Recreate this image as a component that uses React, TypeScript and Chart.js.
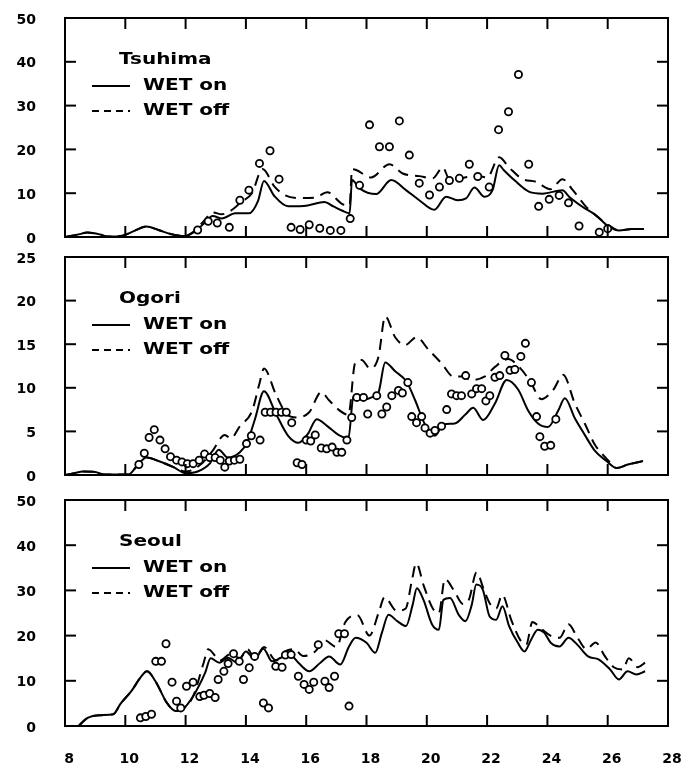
import React, { useEffect, useRef } from "react";
import { Chart, registerables } from "chart.js";

Chart.register(...registerables);

type Pt = [number, number];

// ---------- shared axis / legend text ----------
const xTickValues = [8, 10, 12, 14, 16, 18, 20, 22, 24, 26, 28];
const legendOn = "WET on";
const legendOff = "WET off";

// ---------- Tsuhima ----------
const tsuhimaName = "Tsuhima";
const tsuhimaTicks = [0, 10, 20, 30, 40, 50];
const tsuhimaOn: Pt[] = [
  [8.0, 0], [8.4, 0.5], [8.75, 1.0], [9.15, 0.6], [9.4, 0.1], [9.9, 0.3], [10.3, 1.4], [10.7, 2.4],
  [11.1, 1.6], [11.5, 0.7], [11.95, 0.2], [12.3, 1.2], [12.6, 3.0], [12.9, 4.8], [13.2, 4.2], [13.65, 5.4],
  [14.1, 5.4], [14.4, 8.2], [14.6, 12.8], [14.95, 9.3], [15.4, 7.0], [16.05, 7.2], [16.6, 8.0], [16.9, 7.0],
  [17.2, 6.0], [17.44, 5.4], [17.52, 13.0], [17.77, 11.1], [18.32, 9.8], [18.82, 13.0], [19.31, 10.7],
  [19.75, 8.4], [20.25, 6.2], [20.64, 9.2], [21.02, 8.4], [21.3, 8.8], [21.58, 11.3], [21.91, 9.2],
  [22.18, 10.7], [22.4, 16.4], [22.55, 15.3], [22.9, 13.0], [23.4, 10.3], [23.84, 9.9], [24.5, 10.7],
  [24.72, 9.2], [25.16, 6.9], [25.6, 5.0], [26.05, 2.3], [26.38, 1.5], [26.8, 1.8], [27.2, 1.8],
];
const tsuhimaOff: Pt[] = [
  [8.0, 0], [8.4, 0.5], [8.75, 1.0], [9.15, 0.6], [9.4, 0.1], [9.9, 0.3], [10.3, 1.4], [10.7, 2.4],
  [11.1, 1.6], [11.5, 0.7], [11.95, 0.2], [12.3, 1.4], [12.6, 3.6], [12.9, 5.6], [13.2, 5.2], [13.5, 6.0],
  [13.85, 8.0], [14.2, 10.0], [14.55, 15.5], [14.95, 11.5], [15.3, 9.5], [15.8, 8.9], [16.3, 9.0],
  [16.7, 10.2], [17.2, 7.5], [17.44, 7.2], [17.52, 15.5], [17.66, 15.3], [18.15, 13.6], [18.76, 16.6],
  [19.2, 14.5], [19.75, 13.9], [20.2, 13.4], [20.53, 15.9], [20.75, 13.2], [21.2, 13.5], [21.63, 14.0],
  [22.0, 13.6], [22.4, 18.2], [22.74, 15.8], [23.18, 13.2], [23.62, 12.6], [24.1, 10.9], [24.5, 13.2],
  [24.83, 10.8], [25.27, 7.0], [25.72, 4.3], [26.05, 2.6], [26.38, 1.5], [26.8, 1.8], [27.2, 1.8],
];
const tsuhimaObs: Pt[] = [
  [12.4, 1.6], [12.75, 3.6], [13.05, 3.2], [13.45, 2.2], [13.8, 8.4], [14.1, 10.7], [14.45, 16.8],
  [14.8, 19.7], [15.1, 13.2], [15.5, 2.2], [15.8, 1.7], [16.1, 2.8], [16.45, 2.0], [16.8, 1.5],
  [17.15, 1.5], [17.46, 4.2], [17.77, 11.8], [18.1, 25.6], [18.43, 20.6], [18.76, 20.6], [19.09, 26.5],
  [19.42, 18.7], [19.75, 12.3], [20.09, 9.6], [20.42, 11.4], [20.75, 12.9], [21.08, 13.4], [21.41, 16.6],
  [21.69, 13.8], [22.07, 11.4], [22.38, 24.5], [22.71, 28.6], [23.04, 37.1], [23.38, 16.6], [23.71, 7.0],
  [24.06, 8.6], [24.39, 9.5], [24.7, 7.8], [25.05, 2.5], [25.72, 1.1], [26.0, 1.9],
];

// ---------- Ogori ----------
const ogoriName = "Ogori";
const ogoriTicks = [0, 5, 10, 15, 20, 25];
const ogoriOn: Pt[] = [
  [8.0, 0], [8.3, 0.2], [8.6, 0.4], [9.0, 0.35], [9.3, 0.05], [10.1, 0.05], [10.4, 1.1], [10.7, 2.0],
  [11.1, 1.6], [11.6, 0.9], [12.0, 0.2], [12.4, 0.4], [12.8, 1.3], [13.1, 2.9], [13.4, 2.0], [13.8, 2.6],
  [14.05, 3.8], [14.3, 6.4], [14.6, 9.6], [15.0, 7.0], [15.4, 4.5], [15.75, 3.7], [16.05, 4.7],
  [16.35, 6.4], [16.7, 5.6], [17.07, 4.6], [17.4, 4.2], [17.57, 9.1], [17.84, 8.6], [18.17, 8.9],
  [18.4, 9.5], [18.62, 12.9], [18.95, 11.9], [19.33, 10.7], [19.61, 8.6], [19.94, 5.8], [20.27, 4.5],
  [20.55, 5.8], [20.93, 5.9], [21.27, 6.9], [21.54, 7.7], [21.87, 6.3], [22.26, 8.2], [22.65, 10.9],
  [23.03, 9.8], [23.36, 7.4], [23.69, 5.9], [24.02, 5.5], [24.36, 7.4], [24.58, 8.8], [24.91, 6.5],
  [25.24, 4.6], [25.57, 2.8], [25.96, 1.6], [26.29, 0.8], [26.67, 1.2], [27.17, 1.6],
];
const ogoriOff: Pt[] = [
  [8.0, 0], [8.3, 0.2], [8.6, 0.4], [9.0, 0.35], [9.3, 0.05], [10.1, 0.05], [10.4, 1.1], [10.7, 2.0],
  [11.1, 1.6], [11.6, 0.9], [12.0, 0.4], [12.5, 1.2], [12.9, 2.8], [13.3, 4.6], [13.5, 4.2], [13.8, 5.6],
  [14.2, 7.3], [14.45, 10.5], [14.6, 12.2], [15.0, 9.2], [15.35, 7.0], [15.7, 6.6], [16.1, 7.2],
  [16.5, 9.5], [16.75, 8.6], [17.07, 7.5], [17.4, 6.9], [17.62, 12.8], [17.84, 13.2], [18.12, 12.2],
  [18.4, 13.6], [18.62, 18.2], [18.95, 15.8], [19.28, 14.9], [19.66, 15.8], [20.05, 14.4], [20.49, 12.8],
  [20.88, 11.3], [21.15, 11.3], [21.49, 10.9], [21.93, 11.3], [22.26, 12.4], [22.7, 13.3], [23.03, 12.5],
  [23.42, 10.8], [23.8, 8.7], [24.2, 9.8], [24.52, 11.5], [24.91, 8.2], [25.24, 5.9], [25.57, 3.5],
  [25.9, 2.1], [26.15, 1.2], [26.29, 0.8], [26.67, 1.2], [27.17, 1.6],
];
const ogoriObs: Pt[] = [
  [10.45, 1.2], [10.63, 2.5], [10.79, 4.3], [10.96, 5.2], [11.15, 4.0], [11.32, 3.0], [11.5, 2.1],
  [11.7, 1.7], [11.88, 1.5], [12.06, 1.3], [12.25, 1.3], [12.45, 1.7], [12.63, 2.4], [12.8, 2.0],
  [12.98, 2.0], [13.15, 1.7], [13.3, 0.9], [13.45, 1.6], [13.62, 1.7], [13.8, 1.8], [14.02, 3.6],
  [14.18, 4.5], [14.47, 4.0], [14.64, 7.2], [14.82, 7.2], [15.0, 7.2], [15.18, 7.2], [15.34, 7.2],
  [15.52, 6.0], [15.7, 1.4], [15.86, 1.2], [16.0, 4.0], [16.15, 3.9], [16.3, 4.6], [16.5, 3.1],
  [16.68, 3.0], [16.86, 3.2], [17.02, 2.6], [17.18, 2.6], [17.35, 4.0], [17.51, 6.6], [17.68, 8.9],
  [17.9, 8.9], [18.04, 7.0], [18.34, 9.1], [18.51, 7.0], [18.67, 7.8], [18.84, 9.1], [19.06, 9.7],
  [19.19, 9.4], [19.37, 10.6], [19.5, 6.7], [19.66, 6.0], [19.83, 6.7], [19.94, 5.4], [20.11, 4.8],
  [20.27, 5.1], [20.49, 5.6], [20.66, 7.5], [20.82, 9.3], [20.99, 9.1], [21.15, 9.1], [21.29, 11.4],
  [21.49, 9.3], [21.65, 9.9], [21.82, 9.9], [21.96, 8.5], [22.09, 9.1], [22.26, 11.2], [22.42, 11.4],
  [22.59, 13.7], [22.76, 12.0], [22.92, 12.1], [23.12, 13.6], [23.27, 15.1], [23.47, 10.6],
  [23.64, 6.7], [23.75, 4.4], [23.91, 3.3], [24.11, 3.4], [24.28, 6.4],
];

// ---------- Seoul ----------
const seoulName = "Seoul";
const seoulTicks = [0, 10, 20, 30, 40, 50];
const seoulOn: Pt[] = [
  [8.45, 0], [8.75, 1.8], [9.2, 2.4], [9.6, 2.6], [9.85, 5.0], [10.2, 7.7], [10.5, 10.7], [10.72, 12.1],
  [11.0, 9.9], [11.38, 5.1], [11.67, 3.3], [11.9, 3.7], [12.25, 6.6], [12.65, 11.8], [12.83, 15.0],
  [13.12, 14.0], [13.41, 15.1], [13.71, 14.0], [14.0, 16.5], [14.29, 14.7], [14.58, 17.1], [14.87, 14.3],
  [15.16, 15.1], [15.45, 15.8], [15.74, 14.0], [16.1, 12.1], [16.47, 14.0], [16.76, 15.4], [17.13, 13.6],
  [17.42, 17.6], [17.64, 19.5], [18.0, 18.4], [18.29, 16.2], [18.51, 20.6], [18.73, 24.6], [19.02, 23.2],
  [19.31, 22.1], [19.53, 26.8], [19.67, 30.5], [19.89, 27.9], [20.18, 22.4], [20.4, 21.3], [20.55, 27.9],
  [20.77, 28.3], [21.06, 24.6], [21.28, 23.2], [21.49, 26.8], [21.64, 31.3], [21.86, 30.1], [22.08, 24.3],
  [22.3, 23.5], [22.51, 26.5], [22.73, 22.1], [23.02, 18.4], [23.24, 16.5], [23.46, 19.1], [23.68, 21.3],
  [23.9, 20.6], [24.11, 18.4], [24.4, 17.6], [24.7, 19.5], [24.99, 18.0], [25.35, 15.4], [25.71, 14.7],
  [26.08, 12.5], [26.37, 10.3], [26.66, 12.1], [26.95, 11.4], [27.24, 12.1],
];
const seoulOff: Pt[] = [
  [8.45, 0], [8.75, 1.8], [9.2, 2.4], [9.6, 2.6], [9.85, 5.0], [10.2, 7.7], [10.5, 10.7], [10.72, 12.1],
  [11.0, 9.9], [11.38, 5.1], [11.67, 3.3], [11.9, 3.7], [12.25, 6.6], [12.6, 14.0], [12.75, 17.0],
  [13.15, 14.5], [13.5, 16.0], [13.8, 15.0], [14.05, 17.0], [14.3, 15.0], [14.6, 17.5], [15.0, 14.5],
  [15.3, 16.5], [15.6, 17.0], [15.9, 15.5], [16.3, 16.5], [16.6, 19.0], [17.0, 17.5], [17.3, 23.0],
  [17.7, 24.5], [18.1, 20.0], [18.4, 25.0], [18.6, 28.5], [19.0, 25.5], [19.3, 26.0], [19.5, 32.0],
  [19.65, 36.0], [19.9, 31.0], [20.2, 26.0], [20.4, 25.0], [20.6, 32.5], [20.9, 30.0], [21.2, 27.0],
  [21.4, 28.0], [21.65, 34.0], [21.9, 30.0], [22.1, 27.0], [22.3, 26.0], [22.5, 29.0], [22.8, 23.5],
  [23.1, 19.0], [23.3, 18.0], [23.5, 23.0], [23.8, 21.5], [24.1, 20.0], [24.4, 19.5], [24.7, 22.5],
  [25.0, 19.5], [25.3, 17.0], [25.6, 18.5], [25.9, 15.5], [26.2, 13.0], [26.5, 12.5], [26.7, 15.0],
  [27.0, 13.0], [27.24, 14.0],
];
const seoulObs: Pt[] = [
  [10.5, 1.8], [10.68, 2.1], [10.87, 2.6], [11.01, 14.3], [11.2, 14.3], [11.35, 18.2], [11.55, 9.7],
  [11.7, 5.5], [11.84, 4.0], [12.03, 8.8], [12.25, 9.7], [12.47, 6.5], [12.61, 6.8], [12.8, 7.2],
  [12.98, 6.3], [13.08, 10.3], [13.27, 12.1], [13.41, 13.8], [13.59, 16.0], [13.78, 14.3], [13.92, 10.3],
  [14.11, 12.9], [14.29, 15.4], [14.58, 5.1], [14.75, 4.0], [14.99, 13.2], [15.2, 13.0], [15.31, 15.7],
  [15.5, 15.8], [15.74, 11.0], [15.93, 9.2], [16.1, 8.1], [16.25, 9.7], [16.4, 18.0], [16.62, 9.9],
  [16.76, 8.5], [16.94, 11.0], [17.08, 20.4], [17.27, 20.4], [17.42, 4.4],
];

// ---------- layout ----------
const W = 689;
const PLOT_LEFT = 65;
const PLOT_RIGHT = 668;
const TICK_LEN = 11;
const INK = "#000";
const TICK_FONT = { family: "'DejaVu Sans', sans-serif", size: 14, weight: "bold" as const };

type PanelCfg = {
  name: string;
  ticks: number[];
  on: Pt[];
  off: Pt[];
  obs: Pt[];
  canvasTop: number;
  canvasH: number;
  padTop: number;
  padBottom: number;
  last: boolean;
};

const panels: PanelCfg[] = [
  { name: tsuhimaName, ticks: tsuhimaTicks, on: tsuhimaOn, off: tsuhimaOff, obs: tsuhimaObs,
    canvasTop: 0, canvasH: 257, padTop: 18, padBottom: 20, last: false },
  { name: ogoriName, ticks: ogoriTicks, on: ogoriOn, off: ogoriOff, obs: ogoriObs,
    canvasTop: 241, canvasH: 253, padTop: 16, padBottom: 19, last: false },
  { name: seoulName, ticks: seoulTicks, on: seoulOn, off: seoulOff, obs: seoulObs,
    canvasTop: 480, canvasH: 291, padTop: 20, padBottom: 0, last: true },
];

const X_AXIS_H = 45;

const toXY = (pts: Pt[]) => pts.map(([x, y]) => ({ x, y }));

function wideText(ctx: CanvasRenderingContext2D, text: string, x: number, y: number) {
  ctx.save();
  ctx.translate(x, y);
  ctx.scale(1.25, 1);
  ctx.font = "bold 16px 'DejaVu Sans', sans-serif";
  ctx.textAlign = "left";
  ctx.textBaseline = "middle";
  ctx.fillStyle = INK;
  ctx.fillText(text, 0, 0);
  ctx.restore();
}

function makeFramePlugin(cfg: PanelCfg) {
  return {
    id: "frameAndLegend",
    afterDatasetsDraw(chart: any) {
      const ctx: CanvasRenderingContext2D = chart.ctx;
      const xs = chart.scales.x;
      const ys = chart.scales.y;
      const yMin = cfg.ticks[0];
      const yMax = cfg.ticks[cfg.ticks.length - 1];
      const xMin = xTickValues[0];
      const xMax = xTickValues[xTickValues.length - 1];
      const left = xs.getPixelForValue(xMin);
      const right = xs.getPixelForValue(xMax);
      const top = ys.getPixelForValue(yMax);
      const bottom = ys.getPixelForValue(yMin);
      ctx.save();
      ctx.strokeStyle = INK;
      ctx.lineWidth = 2;
      ctx.beginPath();
      ctx.rect(left, top, right - left, bottom - top);
      ctx.stroke();
      const seg = (x1: number, y1: number, x2: number, y2: number) => {
        ctx.beginPath();
        ctx.moveTo(x1, y1);
        ctx.lineTo(x2, y2);
        ctx.stroke();
      };
      cfg.ticks.forEach((v) => {
        if (v === yMin || v === yMax) return;
        const y = ys.getPixelForValue(v);
        seg(left, y, left + TICK_LEN, y);
        seg(right, y, right - TICK_LEN, y);
      });
      xTickValues.forEach((v) => {
        if (v === xMin || v === xMax) return;
        const x = xs.getPixelForValue(v);
        seg(x, top, x, top + TICK_LEN);
        seg(x, bottom, x, bottom - TICK_LEN);
      });

      // legend block
      const tY = top + 42;
      const onY = top + 68;
      const offY = top + 93;
      wideText(ctx, cfg.name, 119, tY);
      seg(92, onY, 130, onY);
      wideText(ctx, legendOn, 143, onY);
      ctx.setLineDash([7, 5]);
      seg(92, offY, 130, offY);
      ctx.setLineDash([]);
      wideText(ctx, legendOff, 143, offY);
      ctx.restore();
    },
  };
}

function Panel({ cfg }: { cfg: PanelCfg }) {
  const ref = useRef<HTMLCanvasElement>(null);
  useEffect(() => {
    const canvas = ref.current;
    if (!canvas) return;
    const yMax = cfg.ticks[cfg.ticks.length - 1];
    const step = cfg.ticks[1] - cfg.ticks[0];
    const xScale: any = {
      type: "linear",
      min: xTickValues[0],
      max: xTickValues[xTickValues.length - 1],
      display: cfg.last,
      grid: { display: false, drawTicks: false },
      border: { display: false },
      ticks: {
        stepSize: 2,
        autoSkip: false,
        maxRotation: 0,
        padding: 25,
        labelOffset: 4,
        color: INK,
        font: TICK_FONT,
        callback: (v: any) => String(v),
      },
    };
    if (cfg.last) {
      xScale.afterFit = (s: any) => {
        s.height = X_AXIS_H;
        s.paddingLeft = 0;
        s.paddingRight = 0;
      };
    }
    const chart = new Chart(canvas, {
      type: "line",
      data: {
        datasets: [
          {
            type: "scatter",
            label: "observed",
            data: toXY(cfg.obs),
            pointRadius: 3.6,
            pointBorderWidth: 1.8,
            borderColor: INK,
            backgroundColor: "#fff",
            pointBackgroundColor: "#fff",
            pointBorderColor: INK,
            showLine: false,
            order: 0,
          } as any,
          {
            type: "line",
            label: legendOn,
            data: toXY(cfg.on),
            borderColor: INK,
            borderWidth: 2,
            pointRadius: 0,
            fill: false,
            cubicInterpolationMode: "monotone",
            order: 1,
          } as any,
          {
            type: "line",
            label: legendOff,
            data: toXY(cfg.off),
            borderColor: INK,
            borderWidth: 2,
            borderDash: [11, 7],
            pointRadius: 0,
            fill: false,
            cubicInterpolationMode: "monotone",
            order: 2,
          } as any,
        ],
      },
      options: {
        animation: false,
        responsive: false,
        maintainAspectRatio: false,
        layout: {
          autoPadding: false,
          padding: { left: 0, right: W - PLOT_RIGHT, top: cfg.padTop, bottom: cfg.padBottom },
        },
        plugins: {
          legend: { display: false },
          tooltip: { enabled: false },
          title: { display: false },
        },
        scales: {
          x: xScale,
          y: {
            type: "linear",
            min: cfg.ticks[0],
            max: yMax,
            grid: { display: false, drawTicks: false },
            border: { display: false },
            ticks: {
              stepSize: step,
              padding: 29,
              labelOffset: 2,
              color: INK,
              font: TICK_FONT,
            },
            afterFit: (s: any) => {
              s.width = PLOT_LEFT;
              s.paddingTop = 0;
              s.paddingBottom = 0;
            },
          },
        },
      } as any,
      plugins: [makeFramePlugin(cfg)],
    });
    return () => chart.destroy();
  }, [cfg]);
  return (
    <canvas
      ref={ref}
      width={W}
      height={cfg.canvasH}
      style={{ position: "absolute", left: 0, top: cfg.canvasTop, width: W, height: cfg.canvasH }}
    />
  );
}

export default function App() {
  return (
    <div style={{ position: "absolute", left: 0, top: 0, width: W, height: 771, background: "#fff", overflow: "hidden" }}>
      {panels.map((p) => (
        <Panel key={p.name} cfg={p} />
      ))}
    </div>
  );
}
